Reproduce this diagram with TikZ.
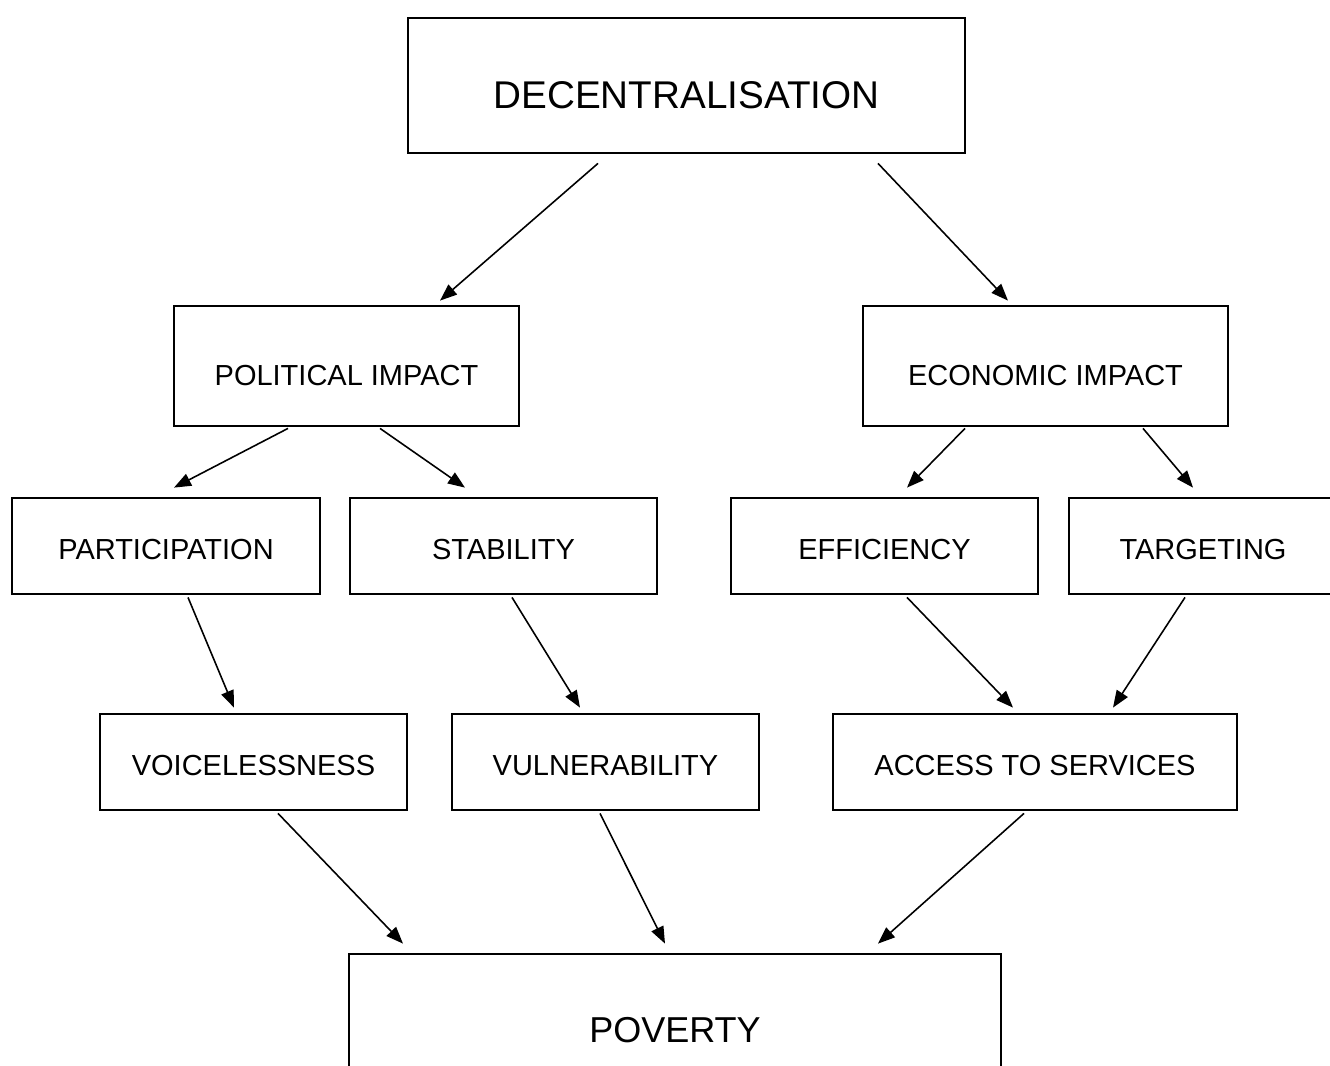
\documentclass[tikz,border=0pt]{standalone}
\usepackage{fontspec}
\setmainfont{Liberation Sans}
\usetikzlibrary{arrows.meta,calc}

\begin{document}
\begin{tikzpicture}[x=0.02cm,y=-0.02cm,
    box/.style={draw, line width=1.6pt, inner sep=0pt, text height=0.54cm, font=\fontsize{16.5}{20}\selectfont},
    arr/.style={-{Triangle[length=3.4mm,width=2.6mm]}, line width=0.9pt}]
    \useasboundingbox (0,0) rectangle (1330,1066);
    \clip (0,0) rectangle (1330,1066);

    % top and first level
    \node[box, minimum width=11.14cm, minimum height=2.7cm, text height=0.92cm, font=\fontsize{22}{26}\selectfont] (dec) at (686.5,85.5) {DECENTRALISATION};
    \node[box, minimum width=6.9cm, minimum height=2.4cm, text height=0.8cm] (pol) at (346.5,366) {POLITICAL IMPACT};
    \node[box, minimum width=7.3cm, minimum height=2.4cm, text height=0.8cm] (eco) at (1045.5,366) {ECONOMIC IMPACT};

    % second level
    \node[box, minimum width=6.16cm, minimum height=1.92cm] (par) at (166,546) {PARTICIPATION};
    \node[box, minimum width=6.14cm, minimum height=1.92cm] (sta) at (503.5,546) {STABILITY};
    \node[box, minimum width=6.14cm, minimum height=1.92cm] (eff) at (884.5,546) {EFFICIENCY};
    \node[box, minimum width=5.36cm, minimum height=1.92cm] (tar) at (1203,546) {TARGETING};

    % third level
    \node[box, minimum width=6.14cm, minimum height=1.92cm] (voi) at (253.5,762) {VOICELESSNESS};
    \node[box, minimum width=6.14cm, minimum height=1.92cm] (vul) at (605.5,762) {VULNERABILITY};
    \node[box, minimum width=8.08cm, minimum height=1.92cm] (acc) at (1035,762) {ACCESS TO SERVICES};

    \node[box, minimum width=13.04cm, minimum height=3.04cm, text height=0.52cm, font=\fontsize{20.5}{24}\selectfont] (pov) at (675,1030) {POVERTY};

    % arrows
    \draw[arr] ($(dec.south)+(-88.5,9)$) -- ($(pol.north)+(93.5,-4)$);
    \draw[arr] ($(dec.south)+(191.5,9)$) -- ($(eco.north)+(-37.5,-4)$);

    \draw[arr] ($(pol.south)+(-58.5,1)$) -- ($(par.north)+(8,-9)$);
    \draw[arr] ($(pol.south)+(33.5,1)$) -- ($(sta.north)+(-38.5,-9)$);
    \draw[arr] ($(eco.south)+(-80.5,1)$) -- ($(eff.north)+(22.5,-9)$);
    \draw[arr] ($(eco.south)+(97.5,1)$) -- ($(tar.north)+(-10,-9)$);

    \draw[arr] ($(par.south)+(22,2)$) -- ($(voi.north)+(-19.5,-5)$);
    \draw[arr] ($(sta.south)+(8.5,2)$) -- ($(vul.north)+(-25.5,-5)$);
    \draw[arr] ($(eff.south)+(22.5,2)$) -- ($(acc.north)+(-22,-5)$);
    \draw[arr] ($(tar.south)+(-18,2)$) -- ($(acc.north)+(78,-5)$);

    \draw[arr] ($(voi.south)+(24.5,2)$) -- ($(pov.north)+(-272,-9)$);
    \draw[arr] ($(vul.south)+(-5.5,2)$) -- ($(pov.north)+(-10,-9)$);
    \draw[arr] ($(acc.south)+(-11,2)$) -- ($(pov.north)+(203,-9)$);
\end{tikzpicture}
\end{document}
